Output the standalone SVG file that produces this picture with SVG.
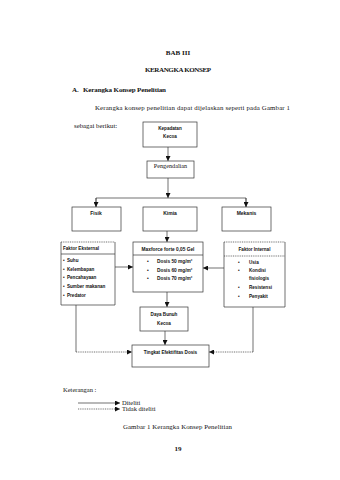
<svg xmlns="http://www.w3.org/2000/svg" width="340" height="480" viewBox="0 0 340 480">
<style>
.s{font-family:"Liberation Serif",serif;fill:#111}
.b{font-family:"Liberation Sans",sans-serif;font-weight:bold;fill:#111}
.box{fill:#fff;stroke:#333;stroke-width:0.7}
.ln{fill:none;stroke:#333;stroke-width:0.7}
.dt{fill:none;stroke:#333;stroke-width:0.7;stroke-dasharray:1 0.8}
</style>
<defs>
<marker id="ah" viewBox="0 0 6 6" refX="6" refY="3" markerWidth="5" markerHeight="5" markerUnits="userSpaceOnUse" orient="auto">
<path d="M0,0 L6,3 L0,6 z" fill="#111"/>
</marker>
</defs>
<rect width="340" height="480" fill="#fff"/>
<g id="header">
<text class="s" x="178" y="55" font-size="7" font-weight="bold" text-anchor="middle">BAB III</text>
<text class="s" x="178" y="72" font-size="7" font-weight="bold" text-anchor="middle" textLength="66">KERANGKA KONSEP</text>
<text class="s" x="72" y="92" font-size="7" font-weight="bold">A.</text>
<text class="s" x="83" y="92" font-size="7" font-weight="bold" textLength="83">Kerangka Konsep Penelitian</text>
<text class="s" x="95" y="110" font-size="6.8" textLength="195">Kerangka konsep penelitian dapat dijelaskan seperti pada Gambar 1</text>
<text class="s" x="74" y="128" font-size="6.8">sebagai berikut:</text>
</g>
<g id="connectors">
<line class="ln" x1="168" y1="147" x2="168" y2="161" marker-end="url(#ah)"/>
<line class="ln" x1="168" y1="178" x2="168" y2="198" marker-end="url(#ah)"/>
<polyline class="ln" points="96,207 96,198 246,198 246,207"/>
<line class="ln" x1="96" y1="198" x2="96" y2="207" marker-end="url(#ah)"/>
<line class="ln" x1="246" y1="198" x2="246" y2="207" marker-end="url(#ah)"/>
<line class="ln" x1="115" y1="267" x2="133" y2="267" marker-end="url(#ah)"/>
<line class="ln" x1="224" y1="268" x2="203" y2="268" marker-end="url(#ah)"/>
<line class="ln" x1="167" y1="231" x2="167" y2="242" marker-end="url(#ah)"/>
<line class="ln" x1="167" y1="292" x2="167" y2="307" marker-end="url(#ah)"/>
<line class="ln" x1="165" y1="331" x2="165" y2="345" marker-end="url(#ah)"/>
<line class="ln" x1="76" y1="305" x2="76" y2="352"/>
<line class="dt" x1="76" y1="352" x2="132" y2="352" marker-end="url(#ah)"/>
<line class="ln" x1="253" y1="307" x2="253" y2="352"/>
<line class="dt" x1="253" y1="352" x2="209" y2="352" marker-end="url(#ah)"/>
</g>
<g id="kepadatan">
<rect class="box" x="143" y="122" width="54" height="25"/>
<text class="b" x="170" y="130" font-size="4.6" text-anchor="middle">Kepadatan</text>
<text class="b" x="170" y="138" font-size="4.6" text-anchor="middle">Kecoa</text>
</g>
<g id="pengendalian">
<rect class="box" x="147" y="161" width="47" height="17"/>
<text class="s" x="170.5" y="168" font-size="6.2" text-anchor="middle">Pengendalian</text>
</g>
<g id="fisik">
<rect class="box" x="72" y="207" width="49" height="24"/>
<text class="b" x="96" y="215" font-size="5" text-anchor="middle">Fisik</text>
</g>
<g id="kimia">
<rect class="box" x="143" y="207" width="54" height="24"/>
<text class="b" x="170" y="215" font-size="5" text-anchor="middle">Kimia</text>
</g>
<g id="mekanis">
<rect class="box" x="222" y="207" width="49" height="24"/>
<text class="b" x="246.5" y="215" font-size="5" text-anchor="middle">Mekanis</text>
</g>
<g id="faktor-eksternal">
<rect x="61" y="242" width="54" height="63" fill="#fff"/>
<polyline class="ln" points="61,242 61,305 115,305 115,242"/>
<line class="dt" x1="61" y1="242" x2="115" y2="242"/>
<line class="ln" x1="61" y1="254" x2="115" y2="254"/>
<text class="b" x="63" y="250" font-size="4.6">Faktor Eksternal</text>
<g class="b" font-size="4.6" font-weight="normal">
<text x="63" y="262">•</text><text x="67" y="262">Suhu</text>
<text x="63" y="271">•</text><text x="67" y="271">Kelembapan</text>
<text x="63" y="279">•</text><text x="67" y="279">Pencahayaan</text>
<text x="63" y="288">•</text><text x="67" y="288">Sumber makanan</text>
<text x="63" y="297">•</text><text x="67" y="297">Predator</text>
</g>
</g>
<g id="maxforce">
<rect class="box" x="133" y="242" width="70" height="50"/>
<line class="ln" x1="133" y1="255" x2="203" y2="255"/>
<text class="b" x="168" y="251" font-size="4.8" text-anchor="middle">Maxforce forte 0,05 Gel</text>
<g class="b" font-size="4.8">
<text x="147" y="263">•</text><text x="157" y="263">Dosis 50 mg/m²</text>
<text x="147" y="272">•</text><text x="157" y="272">Dosis 60 mg/m²</text>
<text x="147" y="280">•</text><text x="157" y="280">Dosis 70 mg/m²</text>
</g>
</g>
<g id="faktor-internal">
<rect x="224" y="242" width="61" height="65" fill="#fff"/>
<polyline class="ln" points="224,242 224,307 285,307 285,242"/>
<line class="dt" x1="224" y1="242" x2="285" y2="242"/>
<line class="dt" x1="224" y1="256" x2="285" y2="256"/>
<text class="b" x="254.5" y="251" font-size="4.6" text-anchor="middle">Faktor Internal</text>
<g class="b" font-size="4.6">
<text x="238" y="264">•</text><text x="249" y="264">Usia</text>
<text x="238" y="272">•</text><text x="249" y="272">Kondisi</text>
<text x="249" y="280">fisiologis</text>
<text x="238" y="289">•</text><text x="249" y="289">Resistensi</text>
<text x="238" y="298">•</text><text x="249" y="298">Penyakit</text>
</g>
</g>
<g id="daya-bunuh">
<rect class="box" x="140" y="307" width="48" height="24"/>
<text class="b" x="164" y="316" font-size="4.6" text-anchor="middle">Daya Bunuh</text>
<text class="b" x="164" y="325" font-size="4.6" text-anchor="middle">Kecoa</text>
</g>
<g id="tingkat">
<rect class="box" x="132" y="345" width="77" height="22"/>
<text class="b" x="170.5" y="354" font-size="4.6" text-anchor="middle">Tingkat Efektifitas Dosis</text>
</g>
<g id="legend">
<text class="s" x="63" y="392" font-size="6.5">Keterangan :</text>
<line class="ln" x1="78" y1="403" x2="120" y2="403" marker-end="url(#ah)"/>
<line class="dt" x1="78" y1="409" x2="120" y2="409" marker-end="url(#ah)"/>
<text class="s" x="122" y="405" font-size="6.5">Diteliti</text>
<text class="s" x="122" y="411" font-size="6.5">Tidak diteliti</text>
<text class="s" x="123" y="429" font-size="6.8" textLength="109">Gambar 1 Kerangka Konsep Penelitian</text>
<text class="s" x="178" y="451" font-size="7" font-weight="bold" text-anchor="middle">19</text>
</g>
</svg>
